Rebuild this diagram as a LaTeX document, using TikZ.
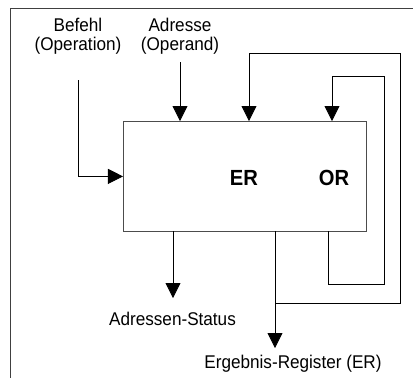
\documentclass[tikz,border=0pt]{standalone}
\usepackage{fontspec}
\setmainfont{Liberation Sans}
\usetikzlibrary{arrows.meta}
\begin{document}
\begin{tikzpicture}[x=1bp,y=-1bp,
  conn/.style={line width=0.8bp, black, -{Triangle[length=15bp,width=15bp]}},
  frameline/.style={line width=0.8bp, black!75},
  boxstyle/.style={draw=black!70, line width=0.8bp, inner sep=0, minimum width=243bp, minimum height=110bp},
  lbl/.style={font=\fontsize{18.5}{19}\selectfont, inner sep=0, align=center, xscale=0.93},
  reg/.style={font=\bfseries\fontsize{22}{24}\selectfont, inner sep=0, xscale=0.92}]
\useasboundingbox (0,0) rectangle (413,378);
\draw[frameline] (10,378) -- (10,8) -- (413,8);
\node[boxstyle, anchor=north west] (alu) at (123,121) {};
\node[lbl] (befehl) at (78,36) {Befehl\\(Operation)};
\node[lbl] (adresse) at (180,36) {Adresse\\(Operand)};
\node[reg, anchor=base] (er) at (244,185) {ER};
\node[reg, anchor=base] (or) at (334,185) {OR};
\node[lbl, anchor=base] (status) at (172.5,325.5) {Adressen-Status};
\node[lbl, anchor=base] (ergebnis) at (293,368.3) {Ergebnis-Register (ER)};
\coordinate (b0) at (78,80);
\coordinate (a0) at (180,62);
\coordinate (erbot) at (275,231);
\coordinate (erend) at (275,348);
\coordinate (orbot) at (328,231);
\coordinate (stbot) at (173,231);
\coordinate (stend) at (173,298);
\draw[conn] (b0) |- (alu.west);
\draw[conn] (a0) -- (a0 |- alu.north);
\draw[conn] (erbot) -- (erend);
\draw[conn] (stbot) -- (stend);
\draw[conn] (erbot |- 0,303) -| (400,53) -| (249,121);
\draw[conn] (orbot) |- (384,284) |- (332,76) -- (332,121);
\end{tikzpicture}
\end{document}
